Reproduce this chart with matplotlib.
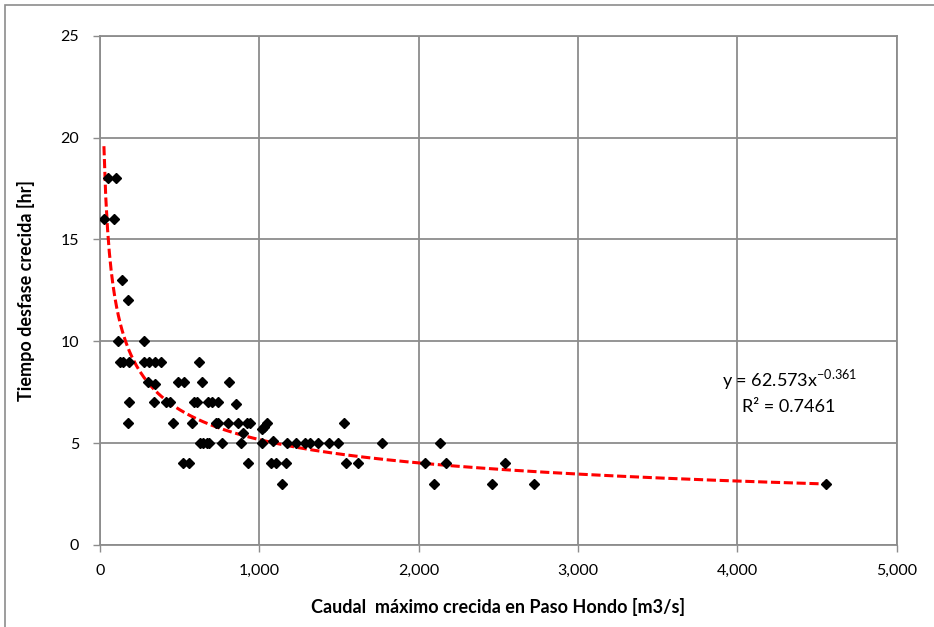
import numpy as np
import matplotlib.pyplot as plt
from matplotlib.patches import Rectangle

plt.rcParams['font.family'] = ['Lato', 'DejaVu Sans']

# caudal maximo (m3/s) y tiempo de desfase (hr)
caudal = [25, 52, 98, 88, 136, 174, 115, 276,
          125, 146, 184, 278, 309, 345, 381, 621,
          303, 491, 529, 642, 813, 345,
          184, 339, 414, 439, 590, 607, 680, 705, 742, 857,
          174, 460, 579, 728, 742, 801, 864, 924, 941,
          899, 627, 648, 669, 686, 763, 883,
          1014, 1029, 1046, 1014, 1083, 1171, 1230, 1286, 1317, 1370, 1439, 1491,
          1533, 1773, 523, 560, 930, 1071, 1108, 1167, 1543, 1620, 1140,
          2137, 2039, 2171, 2095, 2463, 2543, 2725, 4555]
desfase = [16, 18, 18, 16, 13, 12, 10, 10,
           9, 9, 9, 9, 9, 9, 9, 9,
           8, 8, 8, 8, 8, 7.9,
           7, 7, 7, 7, 7, 7, 7, 7, 7, 6.9,
           6, 6, 6, 6, 6, 6, 6, 6, 6,
           5.5, 5, 5, 5, 5, 5, 5,
           5.7, 5.8, 6, 5, 5.1, 5, 5, 5, 5, 5, 5, 5,
           6, 5, 4, 4, 4, 4, 4, 4, 4, 4, 3,
           5, 4, 4, 3, 3, 4, 3, 3]

# ajuste potencial
a, b = 62.573, -0.361
r2 = 0.7461

fig = plt.figure(figsize=(9.34, 6.27), dpi=100)
ax = fig.add_axes([0.107, 0.131, 0.853, 0.812])

xs = np.linspace(min(caudal), max(caudal), 400)
ax.plot(xs, a * xs ** b, color='#ff0000', lw=2.2, dashes=(3, 1.2), zorder=2)
ax.plot(caudal, desfase, 'D', color='black', ms=5.5, zorder=3)

ax.set_xlim(0, 5000)
ax.set_ylim(0, 25)
ax.set_xticks(np.arange(0, 5001, 1000))
ax.set_yticks(np.arange(0, 26, 5))
ax.set_xticklabels(['0', '1,000', '2,000', '3,000', '4,000', '5,000'])
ax.grid(True, color='#8c8c8c', lw=1.3)
ax.set_axisbelow(True)
for s in ax.spines.values():
    s.set_color('#8c8c8c')
    s.set_linewidth(1.3)
ax.tick_params(colors='#8c8c8c', labelcolor='black', labelsize=11.5, length=5, width=1)
ax.tick_params(axis='x', pad=9)
ax.tick_params(axis='y', pad=10)

ax.set_xlabel('Caudal  máximo crecida en Paso Hondo [m3/s]', fontsize=13,
              fontweight='bold', labelpad=14)
ax.set_ylabel('Tiempo desfase crecida [hr]', fontsize=13, fontweight='bold', labelpad=18)

ax.text(0.865, 0.325, 'y = 62.573x$^{\\mathregular{-0.361}}$', transform=ax.transAxes,
        fontsize=13, ha='center', va='center')
ax.text(0.865, 0.27, 'R² = %.4f' % r2, transform=ax.transAxes, fontsize=13,
        ha='center', va='center')

# marco exterior del grafico
fig.patches.append(Rectangle((5 / 934, -0.1), 1.2, 1.1 - 5 / 627, transform=fig.transFigure,
                             fill=False, ec='#8c8c8c', lw=1.2))

fig.savefig('out.png', dpi=100)
